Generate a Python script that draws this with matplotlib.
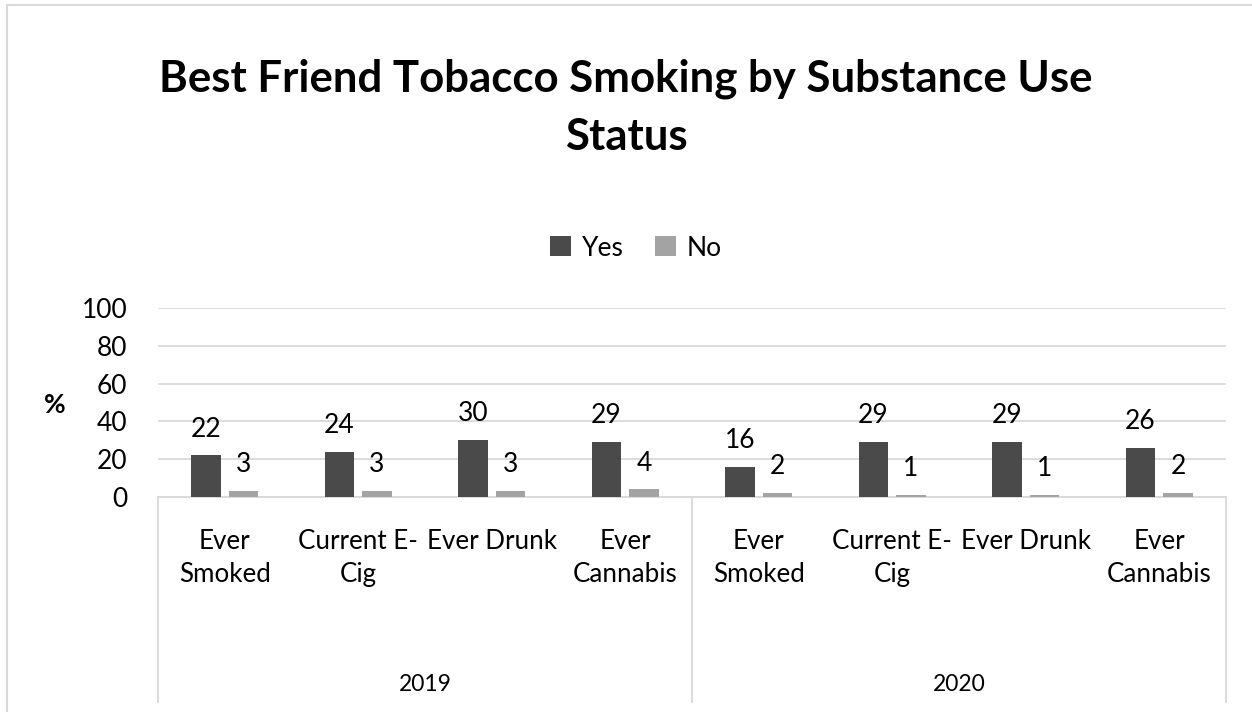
import matplotlib
matplotlib.use("Agg")
import matplotlib.pyplot as plt
from matplotlib.patches import Rectangle
import numpy as np

plt.rcParams["font.family"] = ["Lato", "DejaVu Sans"]

years = ["2019", "2020"]
categories = ["Ever\nSmoked", "Current E-\nCig", "Ever Drunk", "Ever\nCannabis"]
yes_vals = [22, 24, 30, 29, 16, 29, 29, 26]
no_vals = [3, 3, 3, 4, 2, 1, 1, 2]
yticks = [0, 20, 40, 60, 80, 100]

yes_color = "#4a4a4a"
no_color = "#a3a3a3"
grid_color = "#d9d9d9"

fig = plt.figure(figsize=(12.52, 7.12), dpi=100)
ax = fig.add_axes([158 / 1252, 1 - 497 / 712, (1226 - 158) / 1252, 189 / 712])

# chart-area border (cropped on right/bottom like the reference)
fig.add_artist(Rectangle((7 / 1252, -0.1), 1.2, (712 - 5) / 712 + 0.1,
                         transform=fig.transFigure, fill=False,
                         edgecolor=grid_color, linewidth=1.5))

n = len(yes_vals)
x = np.arange(n)
off = 0.14
w = 0.22
b1 = ax.bar(x - off, yes_vals, w, color=yes_color, label="Yes", zorder=3)
b2 = ax.bar(x + off, no_vals, w, color=no_color, label="No", zorder=3)

for bars, vals in ((b1, yes_vals), (b2, no_vals)):
    for r, v in zip(bars, vals):
        ax.annotate(str(v), (r.get_x() + r.get_width() / 2, v),
                    xytext=(0, 10), textcoords="offset points",
                    ha="center", va="bottom", fontsize=19)

ax.set_xlim(-0.5, n - 0.5)
ax.set_ylim(0, 100)
ax.set_yticks(yticks)
ax.tick_params(axis="y", length=0, pad=22, labelsize=19)
ax.set_xticks([])
ax.grid(axis="y", color=grid_color, linewidth=1.3, zorder=0)
for s in ["top", "right", "left"]:
    ax.spines[s].set_visible(False)
ax.spines["bottom"].set_color(grid_color)
ax.spines["bottom"].set_linewidth(1.3)

# category labels and group separators
tr = ax.get_xaxis_transform()
for i in range(n):
    ax.text(i, -0.17, categories[i % 4], transform=tr, ha="center", va="top",
            fontsize=18.7, linespacing=1.38)
for xb in [-0.5, 3.5, 7.5]:
    ax.plot([xb, xb], [0, -1.085], transform=tr, color=grid_color,
            linewidth=1.3, clip_on=False)
for g, yr in enumerate(years):
    ax.text(g * 4 + 1.5, -0.99, yr, transform=tr, ha="center", va="center",
            fontsize=16.5)

ax.text(55 / 1252, 1 - 405 / 712, "%", transform=fig.transFigure,
        ha="center", va="center", fontsize=19, fontweight="bold")

fig.text(0.5, 1 - 108 / 712, "Best Friend Tobacco Smoking by Substance Use\nStatus",
         ha="center", va="center", fontsize=31.5, fontweight="bold", linespacing=1.55)

fig.legend(handles=[b1, b2], loc="center", bbox_to_anchor=(636 / 1252, 1 - 248 / 712),
           ncol=2, frameon=False, fontsize=19, handlelength=0.8, handleheight=0.8,
           handletextpad=0.4, columnspacing=1.2)

fig.savefig("out.png", dpi=100, facecolor="white")
